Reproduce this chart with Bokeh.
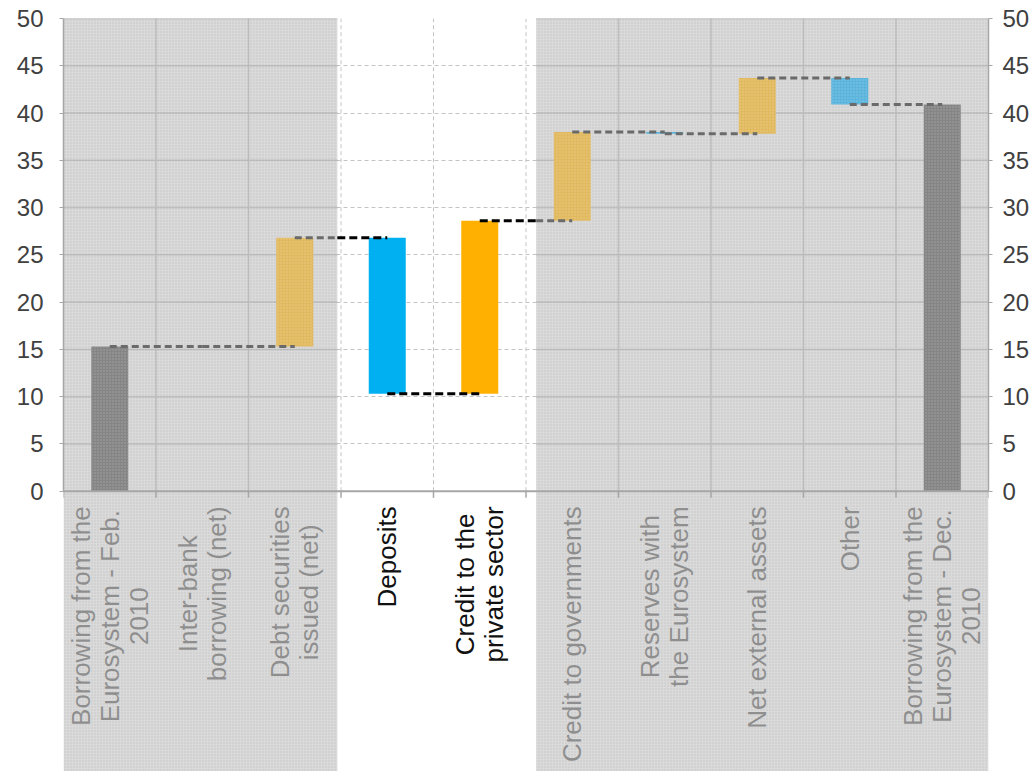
import math
from bokeh.plotting import figure
from bokeh.models import Range1d, LinearAxis, FixedTicker, Grid
from bokeh.core.properties import value
from bokeh.embed import file_html
from bokeh.resources import INLINE

# ---- data ----
categories = [
    "Borrowing from the\nEurosystem - Feb.\n2010",
    "Inter-bank\nborrowing (net)",
    "Debt securities\nissued (net)",
    "Deposits",
    "Credit to the\nprivate sector",
    "Credit to governments",
    "Reserves with\nthe Eurosystem",
    "Net external assets",
    "Other",
    "Borrowing from the\nEurosystem - Dec.\n2010",
]
start_total = 15.3
changes = [0.0, 11.5, -16.5, 18.3, 9.4, -0.2, 5.9, -2.8]
end_total = 40.9
y_ticks = [0, 5, 10, 15, 20, 25, 30, 35, 40, 45, 50]

# ---- layout constants ----
Y_MIN = -29.65
WHITE_LO, WHITE_HI = 2.96, 5.11   # unshaded band (Deposits, Credit to private sector)

n = len(categories)
centers = [i + 0.5 for i in range(n)]


def in_white(x):
    return WHITE_LO < x < WHITE_HI


# ---- waterfall geometry from data ----
bottoms, tops, kinds = [0.0], [start_total], ["total"]
level = start_total
levels_after = [start_total]
for c in changes:
    new = level + c
    bottoms.append(min(level, new))
    tops.append(max(level, new))
    kinds.append("up" if c >= 0 else "down")
    level = new
    levels_after.append(level)
bottoms.append(0.0)
tops.append(end_total)
kinds.append("total")

bright = {"total": "#202020", "up": "#FFB000", "down": "#00B0F0"}
muted = {"total": "#858585", "up": "#E1B95F", "down": "#5AB4DC"}

p = figure(width=1036, height=771,
           x_range=Range1d(0, n), y_range=Range1d(Y_MIN, 50),
           output_backend="svg", toolbar_location=None,
           x_axis_location=None, y_axis_location=None,
           min_border_left=63, min_border_right=48,
           min_border_top=18, min_border_bottom=0)
p.outline_line_color = None
p.xgrid.visible = False
p.ygrid.visible = False
p.background_fill_color = "white"
p.border_fill_color = "white"

ticker = FixedTicker(ticks=y_ticks)
for side, standoff in (("left", 16), ("right", 10)):
    ax = LinearAxis(ticker=ticker, bounds=(0, 50))
    ax.axis_line_color = "#a6a6a6"
    ax.axis_line_width = 1.5
    ax.major_tick_line_color = "#a6a6a6"
    ax.major_tick_out = 4
    ax.major_tick_in = 0
    ax.minor_tick_line_color = None
    ax.major_label_text_font = "Liberation Sans"
    ax.major_label_text_font_size = "24px"
    ax.major_label_text_color = "#404040"
    ax.major_label_standoff = standoff
    p.add_layout(ax, side)

# dashed grid (visible in the unshaded band)
grid = Grid(dimension=1, ticker=ticker, grid_line_color="#c4c4c4",
            grid_line_dash="4 3", grid_line_width=1)
p.add_layout(grid)

# solid grid lines inside the shaded bands (under the shading)
shade_l = [0, WHITE_HI]
shade_r = [WHITE_LO, n]
sx0, sx1, sy = [], [], []
for t in y_ticks[1:]:
    for l, r in zip(shade_l, shade_r):
        sx0.append(l); sx1.append(r); sy.append(t)
p.segment(x0=sx0, y0=sy, x1=sx1, y1=sy, line_color="#a8a8a8", line_width=1.5)

# vertical category boundary lines
bx = list(range(1, n))
bx_solid = [b for b in bx if not (WHITE_LO - 0.1 < b < WHITE_HI + 0.1)]
bx_dash = [b for b in bx if b not in bx_solid]
p.segment(x0=bx_solid, y0=[0] * len(bx_solid), x1=bx_solid, y1=[50] * len(bx_solid),
          line_color="#a8a8a8", line_width=1.5)
p.segment(x0=bx_dash, y0=[0] * len(bx_dash), x1=bx_dash, y1=[50] * len(bx_dash),
          line_color="#c4c4c4", line_dash="4 3", line_width=1)

# category labels (inside the frame, below zero)
p.text(x=centers, y=[-1.6] * n, text=categories, angle=math.pi / 2,
       anchor="center_right", text_align="center",
       text_font=value("Liberation Sans"), text_font_size="26px",
       text_line_height=0.965, text_color="#111111")

# grey shaded overlays
p.quad(left=shade_l, right=shade_r, bottom=[Y_MIN, Y_MIN], top=[50, 50],
       fill_color="#c8c8c8", fill_alpha=0.68, line_color=None,
       hatch_pattern="dot", hatch_scale=3, hatch_color="#9a9a9a", hatch_alpha=0.35)

# bars
g_idx = [i for i in range(n) if not in_white(centers[i])]
w_idx = [i for i in range(n) if in_white(centers[i])]
p.vbar(x=[centers[i] for i in g_idx], bottom=[bottoms[i] for i in g_idx],
       top=[tops[i] for i in g_idx], width=0.4,
       fill_color=[muted[kinds[i]] for i in g_idx], line_color=None,
       hatch_pattern="dot", hatch_scale=3, hatch_color="#ffffff", hatch_alpha=0.25)
p.vbar(x=[centers[i] for i in w_idx], bottom=[bottoms[i] for i in w_idx],
       top=[tops[i] for i in w_idx], width=0.4,
       fill_color=[bright[kinds[i]] for i in w_idx], line_color=None)

# connectors, split at the shading borders
gx0, gx1, gy, wx0, wx1, wy = [], [], [], [], [], []
for a, b, yv in zip(centers[:-1], centers[1:], levels_after):
    cuts = sorted({a, b} | {c for c in (WHITE_LO, WHITE_HI) if a < c < b})
    for s, e in zip(cuts[:-1], cuts[1:]):
        if in_white((s + e) / 2):
            wx0.append(s); wx1.append(e); wy.append(yv)
        else:
            gx0.append(s); gx1.append(e); gy.append(yv)
p.segment(x0=gx0, y0=gy, x1=gx1, y1=gy,
          line_color="#6a6a6a", line_width=3, line_dash="7 4")
p.segment(x0=wx0, y0=wy, x1=wx1, y1=wy,
          line_color="black", line_width=3, line_dash="8 4")

# x axis line and boundary ticks
p.segment(x0=[0], y0=[0], x1=[n], y1=[0], line_color="#a6a6a6", line_width=2)
tx = list(range(0, n + 1))
p.segment(x0=tx, y0=[0] * len(tx), x1=tx, y1=[-0.7] * len(tx),
          line_color="#a6a6a6", line_width=1.5)

open("out.html", "w").write(file_html(p, INLINE))
